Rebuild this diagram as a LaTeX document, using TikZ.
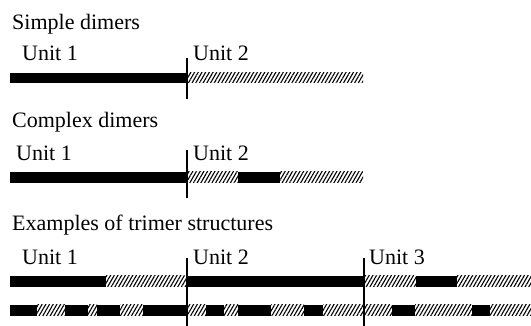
\documentclass[tikz,border=0pt]{standalone}
\usepackage{fontspec}
\setmainfont{Liberation Serif}
\usetikzlibrary{patterns.meta}
\tikzset{
  lbl/.style={anchor=base west, inner sep=0pt, font=\fontsize{22}{26}\selectfont},
  solidseg/.style={fill=black, draw=none},
  hatchseg/.style={draw=none, pattern={Lines[angle=60, distance=3.2pt, line width=1.1pt]}, pattern color=black},
  divider/.style={line width=1.6pt, black}
}
\newcommand{\segs}[4]{% #1 style, #2 y top, #3 y bottom, #4 list of a/b
  \foreach \a/\b in {#4} {\fill[#1] (\a,#2) rectangle (\b,#3);}}
\begin{document}
\begin{tikzpicture}[x=1pt, y=-1pt]
\useasboundingbox (0,0) rectangle (531,326);
% Simple dimers
\node[lbl] (t1) at (12,30) {Simple dimers};
\node[lbl] (u11) at (22,61) {Unit 1};
\node[lbl] (u12) at (193,61) {Unit 2};
\segs{solidseg}{73}{83}{10/187}
\segs{hatchseg}{73}{83}{187/363}
\coordinate (d1a) at (187,58); \coordinate (d1b) at (187,99);
\draw[divider] (d1a) -- (d1b);
% Complex dimers
\node[lbl] (t2) at (12,128) {Complex dimers};
\node[lbl] (u21) at (16,161) {Unit 1};
\node[lbl] (u22) at (193,161) {Unit 2};
\segs{solidseg}{172}{183}{10/187, 238/280}
\segs{hatchseg}{172}{183}{187/238, 280/363}
\coordinate (d2a) at (187,150); \coordinate (d2b) at (187,198);
\draw[divider] (d2a) -- (d2b);
% Trimers
\node[lbl] (t3) at (12,231) {Examples of trimer structures};
\node[lbl] (u31) at (22,265) {Unit 1};
\node[lbl] (u32) at (193,265) {Unit 2};
\node[lbl] (u33) at (369,265) {Unit 3};
\segs{solidseg}{276}{287}{10/106, 187/364, 416/457}
\segs{hatchseg}{276}{287}{106/187, 364/416, 457/531}
\segs{solidseg}{305}{316}{10/37, 65/88, 97/120, 143/187, 206/224, 238/271, 304/323, 392/415, 472/490}
\segs{hatchseg}{305}{316}{37/65, 88/97, 120/143, 187/206, 224/238, 271/304, 323/392, 415/472, 490/531}
\coordinate (d3a) at (187,258); \coordinate (d3b) at (187,326);
\coordinate (d4a) at (364,258); \coordinate (d4b) at (364,326);
\draw[divider] (d3a) -- (d3b);
\draw[divider] (d4a) -- (d4b);
\end{tikzpicture}
\end{document}
